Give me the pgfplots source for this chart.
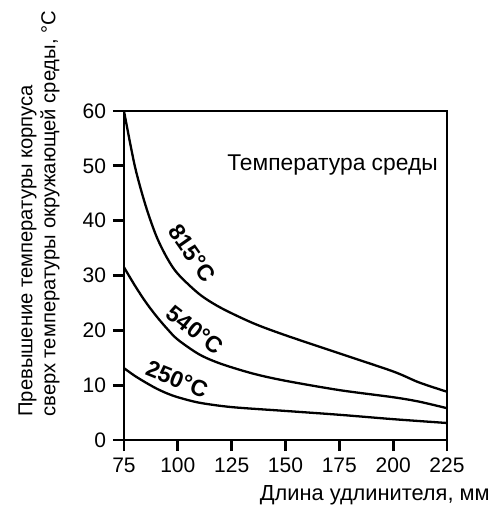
\documentclass[border=0pt]{standalone}
\usepackage{pgfplots}
\pgfplotsset{compat=1.18}
\usepackage{fontspec}
\setmainfont{Liberation Sans}
\newcommand{\lf}{\fontsize{10.5bp}{12bp}\selectfont}
\begin{document}
\begin{tikzpicture}
\path[use as bounding box] (-62bp,-34bp) rectangle (187bp,220bp);
\begin{axis}[
 scale only axis, width=161.5bp, height=164.5bp,
 xmin=75,xmax=225,ymin=0,ymax=60,
 xtick={75,100,...,225}, ytick={0,10,...,60},
 tick align=outside, xtick pos=bottom, ytick pos=left,
 major tick length=5.5bp,
 axis line style={line width=1.4bp},
 every tick/.style={line width=1.4bp, black},
 /pgf/number format/assume math mode=true,
 ticklabel style={font=\lf},
 clip=false,
]
\addplot[black, line width=1.15bp, smooth] coordinates {
(75,60)(80,50)(85,42.8)(90,37.2)(95,33.2)(100,30.3)(110,26.6)(120,24.1)(135,21.3)(150,19.1)(175,15.8)(200,12.5)(212,10.5)(225,8.8)};
\addplot[black, line width=1.15bp, smooth] coordinates {
(75,31.5)(80,28.2)(85,25.2)(90,22.6)(95,20.3)(100,18.3)(110,15.6)(120,13.9)(135,12.1)(150,10.8)(175,9.1)(200,7.8)(212,7.0)(225,5.8)};
\addplot[black, line width=1.15bp, smooth] coordinates {
(75,13.1)(80,11.7)(85,10.5)(90,9.4)(95,8.5)(100,7.8)(110,6.8)(125,6)(150,5.3)(175,4.6)(200,3.8)(225,3.1)};
\node[font=\fontsize{11.5bp}{13bp}\selectfont\bfseries, rotate=-55] at (axis cs:106.6,34.1) {815°C};
\node[font=\fontsize{11.5bp}{13bp}\selectfont\bfseries, rotate=-38] at (axis cs:108,20.1) {540°C};
\node[font=\fontsize{11.5bp}{13bp}\selectfont\bfseries, rotate=-22] at (axis cs:99.6,11.1) {250°C};
\node[font=\fontsize{11.4bp}{13bp}\selectfont, anchor=base west, inner sep=0pt] at (axis cs:122.8,49.06) {Температура среды};
\end{axis}
\node[rotate=90, anchor=west, align=left, font=\fontsize{10.1bp}{11.5bp}\selectfont, inner sep=0pt] at (-42.5bp,11.5bp) {Превышение температуры корпуса\\сверх температуры окружающей среды, °C};
\node[anchor=base east, font=\fontsize{10.9bp}{12bp}\selectfont, inner sep=0pt] at (183bp,-30bp) {Длина удлинителя, мм};
\end{tikzpicture}
\end{document}
